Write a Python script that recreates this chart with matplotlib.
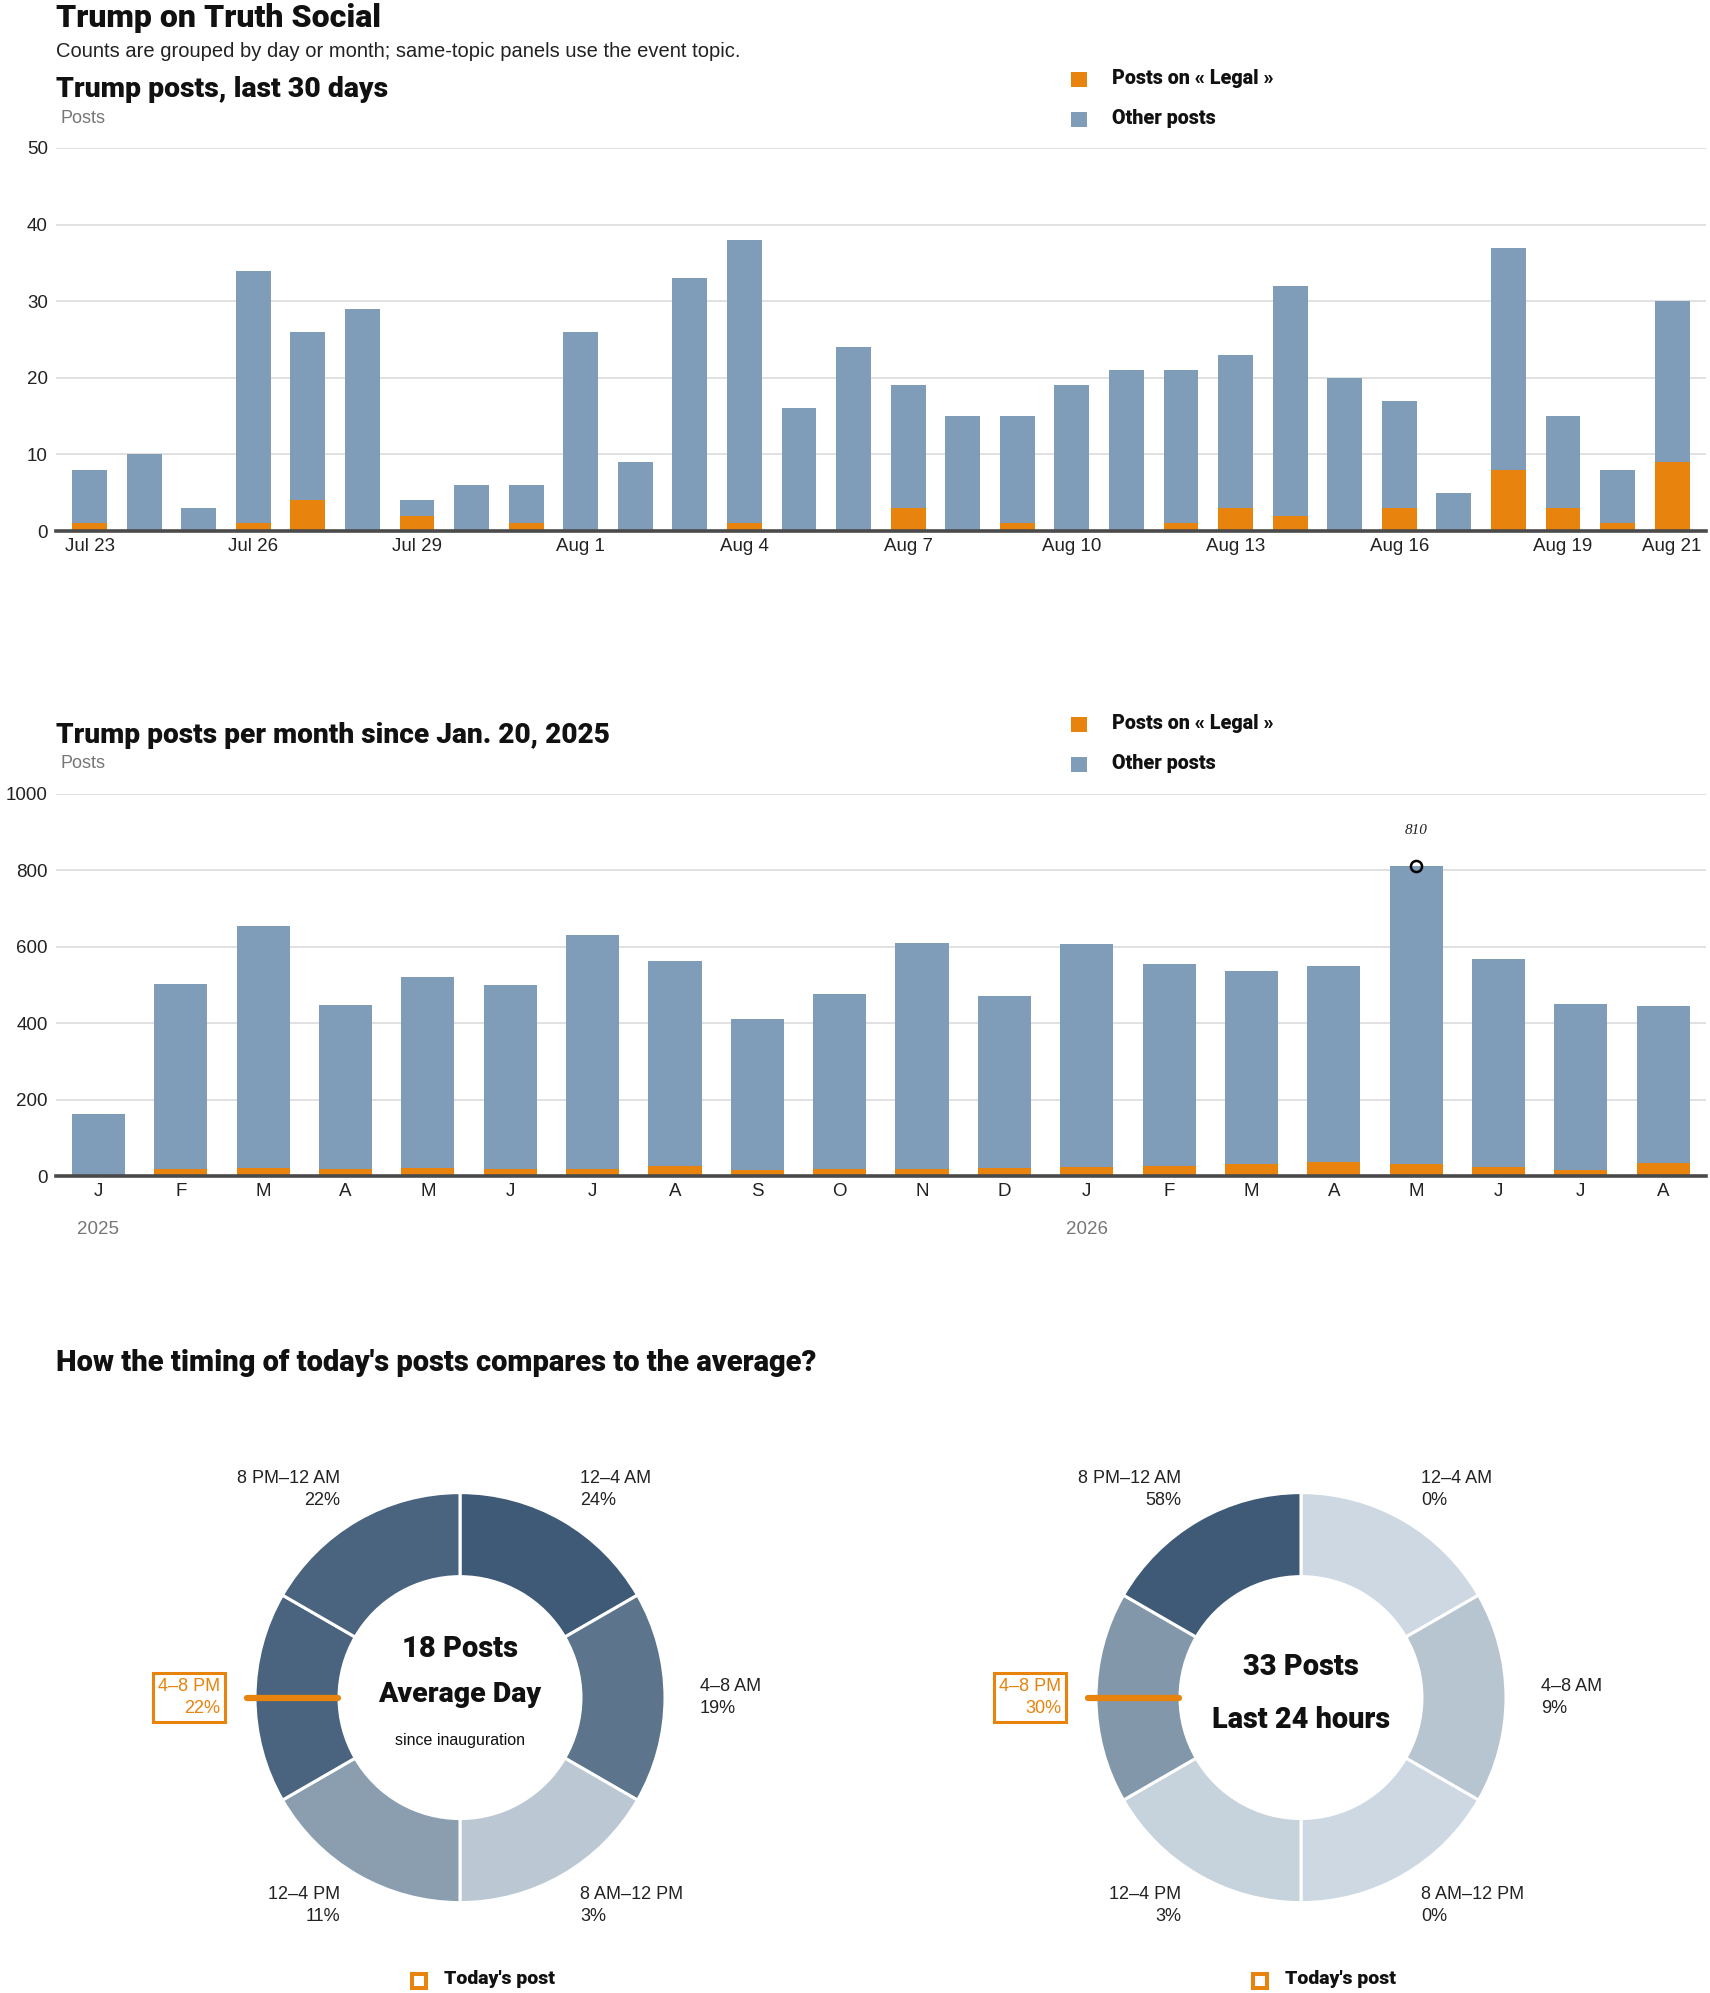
import matplotlib
matplotlib.use("Agg")
import matplotlib.pyplot as plt
from matplotlib.patches import Rectangle
from matplotlib.colors import LinearSegmentedColormap
import numpy as np

# ---------------- data ----------------
day_labels = ["Jul 23", "Jul 24", "Jul 25", "Jul 26", "Jul 27", "Jul 28", "Jul 29", "Jul 30", "Jul 31",
              "Aug 1", "Aug 2", "Aug 3", "Aug 4", "Aug 5", "Aug 6", "Aug 7", "Aug 8", "Aug 9", "Aug 10",
              "Aug 11", "Aug 12", "Aug 13", "Aug 14", "Aug 15", "Aug 16", "Aug 17", "Aug 18", "Aug 19",
              "Aug 20", "Aug 21"]
daily_total = [8, 10, 3, 34, 26, 29, 4, 6, 6, 26, 9, 33, 38, 16, 24, 19, 15, 15, 19, 21,
               21, 23, 32, 20, 17, 5, 37, 15, 8, 30]
daily_legal = [1, 0, 0, 1, 4, 0, 2, 0, 1, 0, 0, 0, 1, 0, 0, 3, 0, 1, 0, 0,
               1, 3, 2, 0, 3, 0, 8, 3, 1, 9]
day_ticks_shown = ["Jul 23", "Jul 26", "Jul 29", "Aug 1", "Aug 4", "Aug 7", "Aug 10",
                   "Aug 13", "Aug 16", "Aug 19", "Aug 21"]

month_labels = ["J", "F", "M", "A", "M", "J", "J", "A", "S", "O", "N", "D",
                "J", "F", "M", "A", "M", "J", "J", "A"]
month_year = ["2025"] * 12 + ["2026"] * 8
monthly_total = [164, 504, 654, 447, 520, 499, 630, 562, 412, 477, 610, 471,
                 607, 556, 538, 549, 810, 568, 451, 444]
monthly_legal = [0, 19, 23, 19, 23, 19, 19, 26, 17, 19, 19, 21,
                 24, 26, 32, 38, 32, 24, 17, 34]

slot_labels = ["12–4 AM", "4–8 AM", "8 AM–12 PM", "12–4 PM", "4–8 PM", "8 PM–12 AM"]
slot_hours = [4, 4, 4, 4, 4, 4]
avg_pct = [24, 19, 3, 11, 22, 22]
today_pct = [0, 9, 0, 3, 30, 58]
avg_posts = 18
today_posts = 33
today_slot = "4–8 PM"

# ---------------- style ----------------
W, H, DPI = 1710, 1993, 100
ORANGE = "#e8830e"
BLUE = "#7f9db9"
GRID = "#dcdcdc"
BASE = "#4a4a4a"
TXT = "#222222"
GRAY = "#767676"
FONT = ["Liberation Sans", "DejaVu Sans"]
HEAD = dict(family=["Roboto", "Liberation Sans", "DejaVu Sans"], fontweight="black", color="#111111")
plt.rcParams["font.family"] = FONT

fig = plt.figure(figsize=(W / DPI, H / DPI), dpi=DPI)
fig.patch.set_facecolor("white")


def fx(x):
    return x / W


def fy(y):
    return 1 - y / H


def ftext(x, y, s, **kw):
    kw.setdefault("color", TXT)
    return fig.text(fx(x), fy(y), s, **kw)


def fsquare(x0, y0, w, h, **kw):
    fig.patches.append(Rectangle((fx(x0), fy(y0 + h)), w / W, h / H,
                                 transform=fig.transFigure, figure=fig, **kw))


AX_L, AX_R = 56, 1706


def bar_panel(top, bottom, xlim, ymax, ystep, legal, total, width, tick_pos, tick_lab):
    ax = fig.add_axes([fx(AX_L), fy(bottom), (AX_R - AX_L) / W, (bottom - top) / H])
    x = np.arange(len(total))
    legal = np.array(legal)
    other = np.array(total) - legal
    ax.bar(x, legal, width=width, color=ORANGE, zorder=2, linewidth=0)
    ax.bar(x, other, bottom=legal, width=width, color=BLUE, zorder=2, linewidth=0)
    ax.set_xlim(*xlim)
    ax.set_ylim(0, ymax)
    ax.set_yticks(np.arange(0, ymax + 1, ystep))
    ax.grid(axis="y", color=GRID, lw=1.2, zorder=0)
    ax.set_axisbelow(True)
    for s in ax.spines.values():
        s.set_visible(False)
    ax.axhline(0, color=BASE, lw=2.6, zorder=5, clip_on=False)
    ax.set_xticks(tick_pos)
    ax.set_xticklabels(tick_lab)
    ax.tick_params(length=0, labelsize=13.5, labelcolor=TXT)
    ax.tick_params(axis="y", pad=5.8)
    ax.tick_params(axis="x", pad=5)
    return ax


def legend(y_orange, y_other):
    fsquare(1071, y_orange - 15, 16, 15, color=ORANGE, lw=0)
    ftext(1112, y_orange - 3, "Posts on « Legal »", fontsize=14.2, va="baseline", **HEAD)
    fsquare(1071, y_other - 15, 16, 15, color=BLUE, lw=0)
    ftext(1112, y_other - 3, "Other posts", fontsize=14.2, va="baseline", **HEAD)


# ---------------- header ----------------
ftext(56, 27, "Trump on Truth Social", fontsize=23, va="baseline", **HEAD)
ftext(56, 57, "Counts are grouped by day or month; same-topic panels use the event topic.",
      fontsize=14.5, va="baseline")

# ---------------- panel 1: last 30 days ----------------
ftext(56, 97, "Trump posts, last 30 days", fontsize=20.4, va="baseline", **HEAD)
ftext(60, 123, "Posts", fontsize=13, color=GRAY, va="baseline")
legend(87, 127)
tick_idx = [day_labels.index(d) for d in day_ticks_shown]
ax1 = bar_panel(148, 531, (-0.615, 29.62), 50, 10, daily_legal, daily_total, 0.64,
                tick_idx, day_ticks_shown)

# ---------------- panel 2: per month ----------------
ftext(56, 743, "Trump posts per month since Jan. 20, 2025", fontsize=20.2, va="baseline", **HEAD)
ftext(60, 768, "Posts", fontsize=13, color=GRAY, va="baseline")
legend(732, 772)
ax2 = bar_panel(793.7, 1176.4, (-0.516, 19.52), 1000, 200, monthly_legal, monthly_total, 0.645,
                np.arange(len(month_labels)), month_labels)
# year labels under first month of each year
seen = set()
for i, yr in enumerate(month_year):
    if yr not in seen:
        seen.add(yr)
        ax2.text(i, -0.139, yr, transform=ax2.get_xaxis_transform(), ha="center", va="center",
                 fontsize=13.5, color=GRAY)
imax = int(np.argmax(monthly_total))
ax2.plot(imax, monthly_total[imax], marker="o", ms=8, mfc="none", mec="black", mew=1.8,
         zorder=6, clip_on=False)
ax2.annotate(str(monthly_total[imax]), (imax, monthly_total[imax]), xytext=(0, 26),
             textcoords="offset points", ha="center", va="center", fontsize=11, style="italic",
             family=["Liberation Serif", "DejaVu Serif"], color=TXT)

# ---------------- panel 3: donuts ----------------
ftext(56, 1371, "How the timing of today's posts compares to the average?", fontsize=21,
      va="baseline", **HEAD)

cmap = LinearSegmentedColormap.from_list("slot", ["#cdd8e2", "#3e5a76"])
CY = 1697.6
R = 205.0
EXT = 1.2


def donut(cx, pct, center_lines):
    ax = fig.add_axes([fx(cx - R * EXT), fy(CY + R * EXT), 2 * R * EXT / W, 2 * R * EXT / H])
    mx = max(pct)
    cols = [cmap(p / mx) for p in pct]
    ax.pie(slot_hours, radius=1, startangle=90, counterclock=False, colors=cols,
           wedgeprops=dict(width=0.41, edgecolor="white", linewidth=2.2))
    ax.set_xlim(-EXT, EXT)
    ax.set_ylim(-EXT, EXT)
    ax.set_aspect("equal")
    ax.axis("off")
    total_h = sum(slot_hours)
    acc = 0
    for i, (lab, p) in enumerate(zip(slot_labels, pct)):
        mid = 90 - (acc + slot_hours[i] / 2) / total_h * 360
        acc += slot_hours[i]
        th = np.deg2rad(mid)
        r = 240 / R
        x, y = r * np.cos(th), r * np.sin(th)
        ha = "left" if np.cos(th) > 0.01 else "right"
        kw = dict(ha=ha, va="center", fontsize=13, multialignment=ha, linespacing=1.4)
        if lab == today_slot:
            ax.text(x, y, f"{lab}\n{p}%", color=ORANGE,
                    bbox=dict(boxstyle="square,pad=0.25", fc="none", ec=ORANGE, lw=2.2), **kw)
            ax.plot([0.595 * np.cos(th), 1.04 * np.cos(th)], [0.595 * np.sin(th), 1.04 * np.sin(th)],
                    color=ORANGE, lw=4.5, solid_capstyle="round", clip_on=False, zorder=5)
        else:
            ax.text(x, y, f"{lab}\n{p}%", color=TXT, **kw)
    for s, py, size, heavy in center_lines:
        if heavy:
            ax.text(0, -(py - CY) / R, s, ha="center", va="center", fontsize=size, **HEAD)
        else:
            ax.text(0, -(py - CY) / R, s, ha="center", va="center", fontsize=size, color="#111111")
    # legend for today's post
    fsquare(cx - 48, 1974, 14, 14, fill=False, ec=ORANGE, lw=2.9)
    ftext(cx - 16, 1979, "Today's post", fontsize=14, va="center", **HEAD)
    return ax


donut(460, avg_pct, [(f"{avg_posts} Posts", 1648.7, 21, True),
                     ("Average Day", 1694, 20.5, True),
                     ("since inauguration", 1741, 11.5, False)])
donut(1301, today_pct, [(f"{today_posts} Posts", 1667, 21, True),
                        ("Last 24 hours", 1720, 20.8, True)])

fig.savefig("out.png", dpi=DPI, facecolor="white")
